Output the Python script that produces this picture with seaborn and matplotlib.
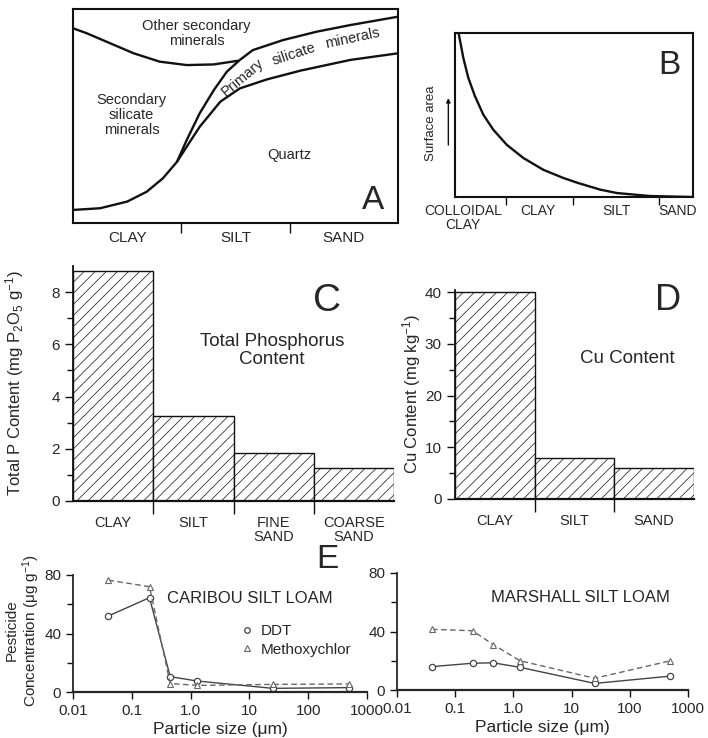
import numpy as np
import pandas as pd
import matplotlib
matplotlib.use('Agg')
import matplotlib.pyplot as plt
from matplotlib.lines import Line2D
from matplotlib.ticker import NullLocator
import seaborn as sns

# --- A: mineral make-up vs size class (x: 0..3 = clay..sand, y: 0..100 %)
size_classes_a = ['CLAY', 'SILT', 'SAND']
quartz_x = [0, 0.25, 0.50, 0.68, 0.83, 0.96, 1.05, 1.17, 1.36, 1.54, 1.79, 2.10, 2.56, 3.0]
quartz_y = [6.1, 6.9, 10.0, 14.6, 20.9, 28.6, 35.7, 45.0, 56.7, 62.9, 67.1, 71.2, 76.2, 79.3]
primary_x = [0.96, 1.05, 1.17, 1.30, 1.42, 1.54, 1.66, 1.94, 2.25, 2.56, 3.0]
primary_y = [28.6, 38.8, 51.3, 62.1, 70.7, 76.2, 80.8, 85.5, 89.4, 92.5, 96.4]
other_x = [0, 0.13, 0.31, 0.56, 0.80, 1.05, 1.30, 1.52]
other_y = [91.0, 88.6, 84.7, 79.3, 75.4, 73.8, 74.1, 75.8]

# --- B: surface area vs particle size (relative units)
area_x = [1.5, 3.5, 5.6, 8.4, 11.9, 16.1, 21.7, 28.7, 37.1, 45.5, 51.8, 61.0, 68.1, 81.9, 100]
area_y = [100, 84.8, 72.6, 61.4, 50.2, 41.0, 31.9, 23.8, 16.6, 11.6, 8.5, 4.5, 2.4, 0.6, 0]
size_bounds_b = [21.4, 49.6, 85.7]
size_label_pos_b = [3.4, 34.9, 68, 93.7]
size_classes_b = ['COLLOIDAL\nCLAY', 'CLAY', 'SILT', 'SAND']

# --- C: total phosphorus
p_classes = ['CLAY', 'SILT', 'FINE\nSAND', 'COARSE\nSAND']
p_content = [8.8, 3.25, 1.85, 1.25]

# --- D: copper
cu_classes = ['CLAY', 'SILT', 'SAND']
cu_content = [40, 8, 6]

# --- E: pesticides
particle_size = [0.04, 0.2, 0.45, 1.3, 25, 500]
caribou_ddt = [52, 64.5, 10.5, 7.5, 2.5, 3]
caribou_mxc = [76.5, 72, 5.8, 4.5, 5.2, 5.5]
marshall_ddt = [16, 18.3, 18.6, 15.5, 4.5, 9.5]
marshall_mxc = [41.5, 40.5, 31, 20, 8, 20]

sns.set_style('ticks')
plt.rcParams['font.family'] = ['Liberation Sans', 'DejaVu Sans']
plt.rcParams['mathtext.default'] = 'regular'
plt.rcParams['hatch.linewidth'] = 0.5
plt.rcParams['hatch.color'] = '#333333'

W, H = 708, 738
fig = plt.figure(figsize=(W / 100, H / 100), dpi=100)


def px_axes(x0, y0, x1, y1):
    # axes from pixel box (top-left origin)
    return fig.add_axes([x0 / W, 1 - y1 / H, (x1 - x0) / W, (y1 - y0) / H])


ink = '#111111'

# ---------------- A
axA = px_axes(73, 9, 398, 223)
for xs, ys in [(quartz_x, quartz_y), (primary_x, primary_y), (other_x, other_y)]:
    sns.lineplot(x=xs, y=ys, ax=axA, color=ink, lw=1.7, sort=False, estimator=None)
axA.set_xlim(0, 3)
axA.set_ylim(0, 100)
axA.set_yticks([])
axA.set_xticks([0.5, 1.5, 2.5])
axA.set_xticklabels(size_classes_a, fontsize=11)
axA.set_xticks([1, 2], minor=True)
axA.tick_params(axis='x', which='major', length=0, pad=6)
axA.tick_params(axis='x', which='minor', length=7, width=1, color=ink, direction='out')
for s in axA.spines.values():
    s.set_linewidth(1.5)
    s.set_color(ink)
axA.text(1.14, 88.5, 'Other secondary\nminerals', ha='center', va='center', fontsize=10.5, linespacing=1.1)
axA.text(0.54, 50.5, 'Secondary\nsilicate\nminerals', ha='center', va='center', fontsize=10.5, linespacing=1.1)
axA.text(2.0, 31.8, 'Quartz', ha='center', va='center', fontsize=10.5)
axA.text(1.57, 68.0, 'Primary', ha='center', va='center', fontsize=10.5, rotation=40)
axA.text(2.04, 78.8, 'silicate', ha='center', va='center', fontsize=10.5, rotation=18)
axA.text(2.58, 86.2, 'minerals', ha='center', va='center', fontsize=10.5, rotation=12)
axA.text(0.923, 0.107, 'A', transform=axA.transAxes, ha='center', va='center', fontsize=24)

# ---------------- B
axB = px_axes(455, 33, 693, 197)
sns.lineplot(x=area_x, y=area_y, ax=axB, color=ink, lw=1.7, sort=False, estimator=None)
axB.set_xlim(0, 100)
axB.set_ylim(0, 100)
axB.set_yticks([])
axB.set_xticks(size_label_pos_b)
axB.set_xticklabels(size_classes_b, fontsize=10, linespacing=1.0)
axB.set_xticks(size_bounds_b, minor=True)
axB.tick_params(axis='x', which='major', length=0, pad=5)
axB.tick_params(axis='x', which='minor', length=6, width=1, color=ink, direction='out')
for s in axB.spines.values():
    s.set_linewidth(1.5)
    s.set_color(ink)
axB.set_ylabel('Surface area', fontsize=9.5)
axB.yaxis.set_label_coords(-0.075, 0.45)
axB.annotate('', xy=(-0.028, 0.62), xytext=(-0.028, 0.30), xycoords='axes fraction',
             arrowprops=dict(arrowstyle='-|>', color=ink, lw=1, mutation_scale=6))
axB.text(0.90, 0.80, 'B', transform=axB.transAxes, ha='center', va='center', fontsize=24)


def style_bars(ax, ymax, major, minor, labels):
    for p in ax.patches:
        p.set_hatch('///')
        p.set_edgecolor(ink)
        p.set_linewidth(1.0)
    n = len(labels)
    ax.set_xlim(-0.5, n - 0.5)
    ax.set_ylim(0, ymax)
    ax.set_yticks(major)
    ax.set_yticks(minor, minor=True)
    ax.set_xticks(range(n))
    ax.set_xticklabels(labels, fontsize=10.5, linespacing=1.0)
    ax.set_xticks([i + 0.5 for i in range(n - 1)], minor=True)
    ax.tick_params(axis='x', which='major', length=0, pad=11)
    ax.tick_params(axis='x', which='minor', length=9, width=1, color=ink, direction='out')
    ax.tick_params(axis='y', which='major', length=6, width=1, labelsize=11, color=ink, direction='out')
    ax.tick_params(axis='y', which='minor', length=4, width=1, color=ink, direction='out')
    sns.despine(ax=ax)
    ax.spines['left'].set_linewidth(1.3)
    ax.spines['bottom'].set_linewidth(1.6)
    ax.spines['left'].set_color(ink)
    ax.spines['bottom'].set_color(ink)


# ---------------- C
axC = px_axes(73, 266, 394, 501)
sns.barplot(x=p_classes, y=p_content, ax=axC, width=1, color='white', saturation=1)
style_bars(axC, 9, [0, 2, 4, 6, 8], [1, 3, 5, 7], p_classes)
axC.set_ylabel('Total P Content (mg P$_2$O$_5$ g$^{-1}$)', fontsize=12)
axC.yaxis.set_label_coords(-0.145, 0.5)
axC.text(0.79, 0.85, 'C', transform=axC.transAxes, ha='center', va='center', fontsize=28)
axC.text(0.62, 0.64, 'Total Phosphorus\nContent', transform=axC.transAxes,
         ha='center', va='center', fontsize=13.5, linespacing=1.05)

# ---------------- D
axD = px_axes(455, 290, 694, 499)
sns.barplot(x=cu_classes, y=cu_content, ax=axD, width=1, color='white', saturation=1)
style_bars(axD, 40.4, [0, 10, 20, 30, 40], [5, 15, 25, 35], cu_classes)
axD.set_ylabel('Cu Content (mg kg$^{-1}$)', fontsize=12)
axD.yaxis.set_label_coords(-0.135, 0.5)
axD.text(0.89, 0.95, 'D', transform=axD.transAxes, ha='center', va='center', fontsize=26)
axD.text(0.72, 0.67, 'Cu Content', transform=axD.transAxes, ha='center', va='center', fontsize=13.5)


# ---------------- E
def pesticide_panel(ax, ddt, mxc, title, tx, ty):
    sns.lineplot(x=particle_size, y=ddt, ax=ax, color='#444444', lw=1.0, marker='o',
                 markersize=4.5, markerfacecolor='white', markeredgecolor='#444444',
                 markeredgewidth=0.9, estimator=None)
    sns.lineplot(x=particle_size, y=mxc, ax=ax, color='#666666', lw=1.0, linestyle=(0, (4, 2.5)),
                 marker='^', markersize=4.5, markerfacecolor='white', markeredgecolor='#666666',
                 markeredgewidth=0.8, estimator=None)
    ax.set_xscale('log')
    ax.set_xlim(0.01, 1000)
    ax.set_ylim(0, 80)
    ax.set_xticks([0.01, 0.1, 1, 10, 100, 1000])
    ax.set_xticklabels(['0.01', '0.1', '1.0', '10', '100', '1000'])
    ax.xaxis.set_minor_locator(NullLocator())
    ax.set_yticks([0, 40, 80])
    ax.set_yticks([20, 60], minor=True)
    ax.tick_params(which='major', length=5, width=1, labelsize=11, color=ink, direction='out')
    ax.tick_params(axis='y', which='minor', length=4, width=1, color=ink, direction='out')
    sns.despine(ax=ax)
    ax.spines['left'].set_linewidth(1.3)
    ax.spines['bottom'].set_linewidth(1.6)
    ax.set_xlabel('Particle size (μm)', fontsize=12.5, labelpad=3)
    ax.set_ylabel('')
    ax.text(tx, ty, title, transform=ax.transAxes, ha='center', va='center', fontsize=12)


axE1 = px_axes(73, 575, 367, 692)
pesticide_panel(axE1, caribou_ddt, caribou_mxc, 'CARIBOU SILT LOAM', 0.60, 0.80)
axE1.set_ylabel('Pesticide\nConcentration (μg g$^{-1}$)', fontsize=11, linespacing=1.1)
axE1.yaxis.set_label_coords(-0.105, 0.53)
axE1.text(0.865, 1.13, 'E', transform=axE1.transAxes, ha='center', va='center', fontsize=24)
handles = [
    Line2D([], [], linestyle='none', marker='o', markersize=4, markerfacecolor='white',
           markeredgecolor='#444444', markeredgewidth=0.9),
    Line2D([], [], linestyle='none', marker='^', markersize=4, markerfacecolor='white',
           markeredgecolor='#666666', markeredgewidth=0.8),
]
axE1.legend(handles, ['DDT', 'Methoxychlor'], loc='center left', bbox_to_anchor=(0.57, 0.44),
            frameon=False, handlelength=0.8, handletextpad=0.5, labelspacing=0.3, fontsize=11,
            borderpad=0, borderaxespad=0)

axE2 = px_axes(397, 573, 688, 690)
pesticide_panel(axE2, marshall_ddt, marshall_mxc, 'MARSHALL SILT LOAM', 0.63, 0.79)

fig.savefig('out.png', dpi=100, facecolor='white')
